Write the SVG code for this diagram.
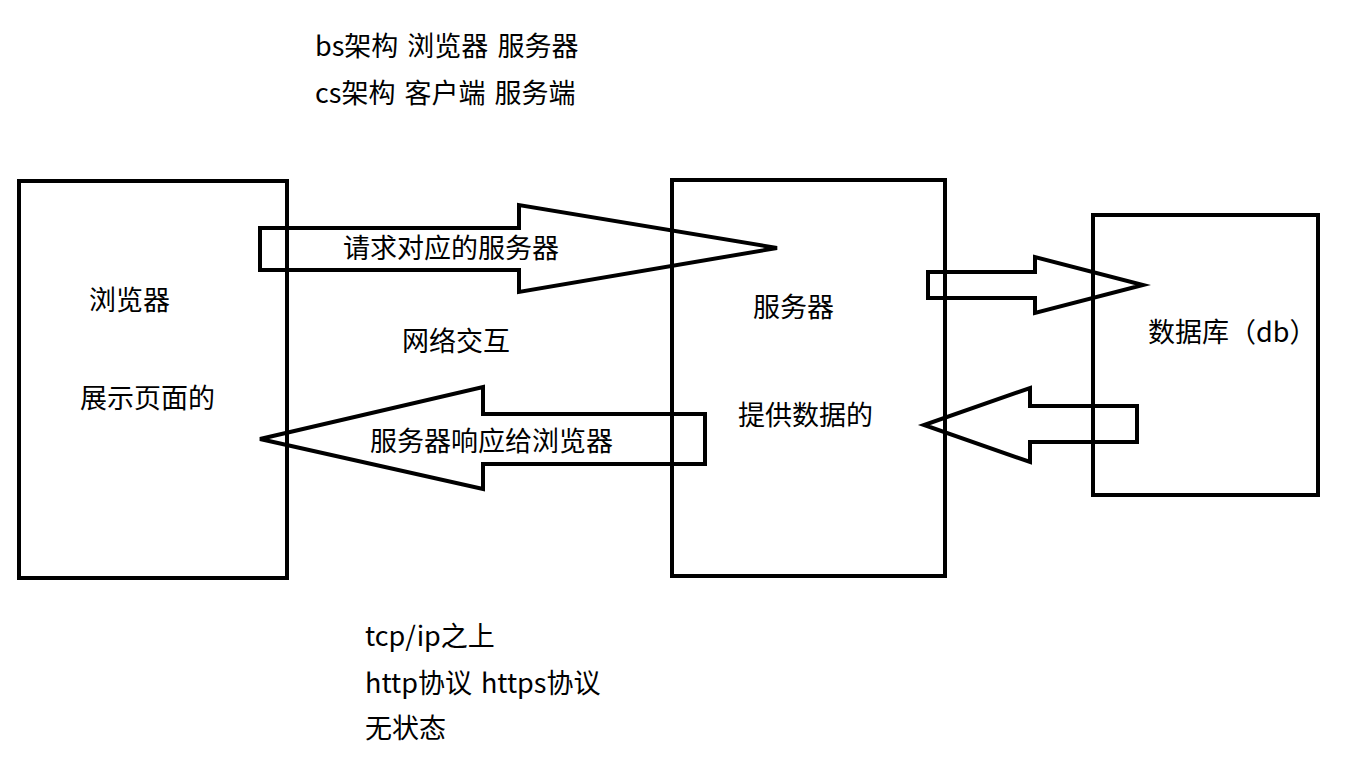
<svg xmlns="http://www.w3.org/2000/svg" width="1347" height="766" viewBox="0 0 1347 766">
<style>
.box{fill:none;stroke:#000;stroke-width:4}
.arr{fill:none;stroke:#000;stroke-width:4;stroke-linejoin:miter}
text{font-family:"Microsoft YaHei","Noto Sans CJK SC",sans-serif;font-size:27px;fill:#000}
.lat{word-spacing:3px}
</style>
<rect width="1347" height="766" fill="#fff"/>
<g id="notes-top">
<text class="lat" x="315" y="56">bs架构 浏览器 服务器</text>
<text class="lat" x="315" y="103">cs架构 客户端 服务端</text>
</g>
<g id="browser">
<rect class="box" x="19" y="181" width="268" height="397"/>
<text x="89" y="310">浏览器</text>
<text x="80" y="408">展示页面的</text>
</g>
<g id="server">
<rect class="box" x="672" y="180" width="273" height="396"/>
<text x="753" y="317">服务器</text>
<text x="738" y="425">提供数据的</text>
</g>
<g id="database">
<rect class="box" x="1093" y="215" width="225" height="280"/>
<text x="1148" y="342">数据库（db）</text>
</g>
<g id="connectors">
<polygon class="arr" points="260,228 519,228 519,205 777,248 519,292 519,270 260,270"/>
<text x="343" y="258">请求对应的服务器</text>
<polygon class="arr" points="705,414 483,414 483,387 260,439 483,489 483,464 705,464"/>
<text x="370" y="451">服务器响应给浏览器</text>
<polygon class="arr" points="928,272 1035,272 1035,257 1143,285 1035,313 1035,298 928,298"/>
<polygon class="arr" points="1137,406 1030,406 1030,388 924,425 1030,462 1030,442 1137,442"/>
<text x="402" y="351">网络交互</text>
</g>
<g id="notes-bottom">
<text x="365" y="646">tcp/ip之上</text>
<text class="lat" x="365" y="693">http协议 https协议</text>
<text x="365" y="738">无状态</text>
</g>
</svg>
